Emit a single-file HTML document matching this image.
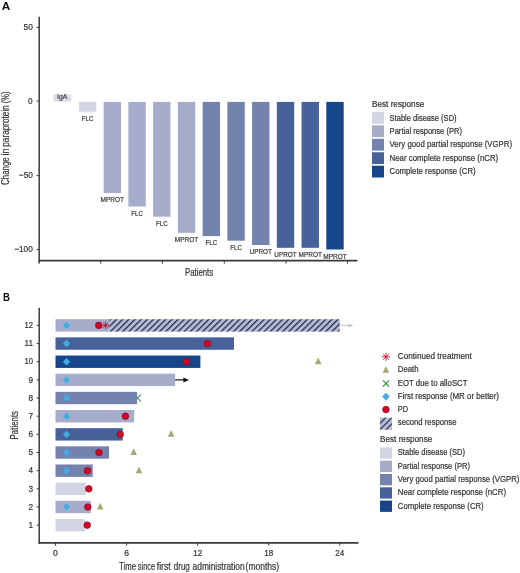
<!DOCTYPE html><html><head><meta charset="utf-8"><style>html,body{margin:0;padding:0;background:#fff;}svg{display:block;will-change:transform;}text{font-family:"Liberation Sans", sans-serif;}</style></head><body>
<svg width="520" height="573" viewBox="0 0 520 573">
<defs><pattern id="hatch" patternUnits="userSpaceOnUse" x="3.05" y="0" width="4.35" height="4.35" patternTransform="rotate(45)"><rect width="4.35" height="4.35" fill="#b5bbd5"/><rect x="0" y="0" width="1.25" height="4.35" fill="#1c2646"/></pattern><pattern id="hatch2" patternUnits="userSpaceOnUse" x="1.95" y="0" width="4.35" height="4.35" patternTransform="rotate(45)"><rect width="4.35" height="4.35" fill="#b6bcd6"/><rect x="0" y="0" width="1.15" height="4.35" fill="#1c2646"/></pattern></defs>
<text x="1.70" y="9.70" font-size="11.2" fill="#111" font-weight="bold" textLength="8.50" lengthAdjust="spacingAndGlyphs">A</text>
<line x1="39.2" y1="16.7" x2="39.2" y2="263.5" stroke="#3a3a3a" stroke-width="1.5"/>
<line x1="38.5" y1="260.6" x2="357.5" y2="260.6" stroke="#3a3a3a" stroke-width="1.8"/>
<line x1="36.6" y1="27.5" x2="39" y2="27.5" stroke="#3a3a3a" stroke-width="1"/>
<line x1="36.6" y1="101.0" x2="39" y2="101.0" stroke="#3a3a3a" stroke-width="1"/>
<line x1="36.6" y1="175.6" x2="39" y2="175.6" stroke="#3a3a3a" stroke-width="1"/>
<line x1="36.6" y1="249.5" x2="39" y2="249.5" stroke="#3a3a3a" stroke-width="1"/>
<text x="23.60" y="30.00" font-size="9" fill="#333333" stroke="#333333" stroke-width="0.2" textLength="9.30" lengthAdjust="spacingAndGlyphs">50</text>
<text x="28.00" y="103.50" font-size="9" fill="#333333" stroke="#333333" stroke-width="0.2" textLength="4.60" lengthAdjust="spacingAndGlyphs">0</text>
<text x="18.80" y="178.10" font-size="9" fill="#333333" stroke="#333333" stroke-width="0.2" textLength="14.10" lengthAdjust="spacingAndGlyphs">−50</text>
<text x="14.20" y="252.00" font-size="9" fill="#333333" stroke="#333333" stroke-width="0.2" textLength="18.60" lengthAdjust="spacingAndGlyphs">−100</text>
<line x1="100.8" y1="260.6" x2="100.8" y2="263.6" stroke="#3a3a3a" stroke-width="1"/>
<line x1="162.5" y1="260.6" x2="162.5" y2="263.6" stroke="#3a3a3a" stroke-width="1"/>
<line x1="224.3" y1="260.6" x2="224.3" y2="263.6" stroke="#3a3a3a" stroke-width="1"/>
<line x1="286.0" y1="260.6" x2="286.0" y2="263.6" stroke="#3a3a3a" stroke-width="1"/>
<line x1="347.5" y1="260.6" x2="347.5" y2="263.6" stroke="#3a3a3a" stroke-width="1"/>
<text x="185.00" y="276.20" font-size="10" fill="#333333" stroke="#333333" stroke-width="0.2" textLength="28.10" lengthAdjust="spacingAndGlyphs">Patients</text>
<text transform="translate(8.9,184.7) rotate(-90)" x="-0.20" font-size="10.5" fill="#333333" stroke="#333333" stroke-width="0.2" textLength="27.60" lengthAdjust="spacingAndGlyphs">Change</text>
<text transform="translate(8.9,184.7) rotate(-90)" x="29.10" font-size="10.5" fill="#333333" stroke="#333333" stroke-width="0.2" textLength="7.20" lengthAdjust="spacingAndGlyphs">in</text>
<text transform="translate(8.9,184.7) rotate(-90)" x="38.00" font-size="10.5" fill="#333333" stroke="#333333" stroke-width="0.2" textLength="41.50" lengthAdjust="spacingAndGlyphs">paraprotein</text>
<text transform="translate(8.9,184.7) rotate(-90)" x="81.50" font-size="10.5" fill="#333333" stroke="#333333" stroke-width="0.2" textLength="11.80" lengthAdjust="spacingAndGlyphs">(%)</text>
<rect x="53.4" y="94.4" width="17.8" height="7.2" fill="#dcdde9"/>
<text x="62.20" y="99.30" font-size="6.5" fill="#444" stroke="#444" stroke-width="0.2" text-anchor="middle" textLength="10.30" lengthAdjust="spacingAndGlyphs">IgA</text>
<rect x="78.90" y="101.9" width="17.4" height="9.90" fill="#d3d5e5"/>
<text x="87.60" y="120.80" font-size="7.3" fill="#333333" stroke="#333333" stroke-width="0.2" text-anchor="middle" textLength="11.50" lengthAdjust="spacingAndGlyphs">FLC</text>
<rect x="103.64" y="101.9" width="17.4" height="91.10" fill="#a6acca"/>
<text x="112.34" y="202.00" font-size="7.3" fill="#333333" stroke="#333333" stroke-width="0.2" text-anchor="middle" textLength="23.50" lengthAdjust="spacingAndGlyphs">MPROT</text>
<rect x="128.38" y="101.9" width="17.4" height="104.60" fill="#a6acca"/>
<text x="137.08" y="215.50" font-size="7.3" fill="#333333" stroke="#333333" stroke-width="0.2" text-anchor="middle" textLength="11.50" lengthAdjust="spacingAndGlyphs">FLC</text>
<rect x="153.12" y="101.9" width="17.4" height="114.80" fill="#a6acca"/>
<text x="161.82" y="225.70" font-size="7.3" fill="#333333" stroke="#333333" stroke-width="0.2" text-anchor="middle" textLength="11.50" lengthAdjust="spacingAndGlyphs">FLC</text>
<rect x="177.86" y="101.9" width="17.4" height="130.90" fill="#a6acca"/>
<text x="186.56" y="241.80" font-size="7.3" fill="#333333" stroke="#333333" stroke-width="0.2" text-anchor="middle" textLength="23.50" lengthAdjust="spacingAndGlyphs">MPROT</text>
<rect x="202.60" y="101.9" width="17.4" height="134.20" fill="#7482ae"/>
<text x="211.30" y="245.10" font-size="7.3" fill="#333333" stroke="#333333" stroke-width="0.2" text-anchor="middle" textLength="11.50" lengthAdjust="spacingAndGlyphs">FLC</text>
<rect x="227.34" y="101.9" width="17.4" height="138.80" fill="#7482ae"/>
<text x="236.04" y="249.70" font-size="7.3" fill="#333333" stroke="#333333" stroke-width="0.2" text-anchor="middle" textLength="11.50" lengthAdjust="spacingAndGlyphs">FLC</text>
<rect x="252.08" y="101.9" width="17.4" height="143.10" fill="#7482ae"/>
<text x="260.78" y="254.00" font-size="7.3" fill="#333333" stroke="#333333" stroke-width="0.2" text-anchor="middle" textLength="22.50" lengthAdjust="spacingAndGlyphs">UPROT</text>
<rect x="276.82" y="101.9" width="17.4" height="145.90" fill="#47619b"/>
<text x="285.52" y="256.80" font-size="7.3" fill="#333333" stroke="#333333" stroke-width="0.2" text-anchor="middle" textLength="22.50" lengthAdjust="spacingAndGlyphs">UPROT</text>
<rect x="301.56" y="101.9" width="17.4" height="145.90" fill="#47619b"/>
<text x="310.26" y="256.80" font-size="7.3" fill="#333333" stroke="#333333" stroke-width="0.2" text-anchor="middle" textLength="23.50" lengthAdjust="spacingAndGlyphs">MPROT</text>
<rect x="326.30" y="101.9" width="17.4" height="147.60" fill="#17478a"/>
<text x="335.00" y="258.50" font-size="7.3" fill="#333333" stroke="#333333" stroke-width="0.2" text-anchor="middle" textLength="23.50" lengthAdjust="spacingAndGlyphs">MPROT</text>
<text x="372.00" y="107.00" font-size="8.3" fill="#333333" stroke="#333333" stroke-width="0.2" textLength="52.30" lengthAdjust="spacingAndGlyphs">Best response</text>
<rect x="372" y="111.90" width="12" height="11.8" fill="#d3d5e5"/>
<text x="389.60" y="120.50" font-size="8.3" fill="#333333" stroke="#333333" stroke-width="0.2" textLength="67.00" lengthAdjust="spacingAndGlyphs">Stable disease (SD)</text>
<rect x="372" y="125.35" width="12" height="11.8" fill="#a6acca"/>
<text x="389.60" y="133.95" font-size="8.3" fill="#333333" stroke="#333333" stroke-width="0.2" textLength="72.40" lengthAdjust="spacingAndGlyphs">Partial response (PR)</text>
<rect x="372" y="138.80" width="12" height="11.8" fill="#7482ae"/>
<text x="389.60" y="147.40" font-size="8.3" fill="#333333" stroke="#333333" stroke-width="0.2" textLength="122.40" lengthAdjust="spacingAndGlyphs">Very good partial response (VGPR)</text>
<rect x="372" y="152.25" width="12" height="11.8" fill="#47619b"/>
<text x="389.60" y="160.85" font-size="8.3" fill="#333333" stroke="#333333" stroke-width="0.2" textLength="108.60" lengthAdjust="spacingAndGlyphs">Near complete response (nCR)</text>
<rect x="372" y="165.70" width="12" height="11.8" fill="#17478a"/>
<text x="389.60" y="174.30" font-size="8.3" fill="#333333" stroke="#333333" stroke-width="0.2" textLength="86.10" lengthAdjust="spacingAndGlyphs">Complete response (CR)</text>
<text x="3.00" y="301.00" font-size="11" fill="#111" font-weight="bold" textLength="6.90" lengthAdjust="spacingAndGlyphs">B</text>
<line x1="39.2" y1="307.8" x2="39.2" y2="543.7" stroke="#3a3a3a" stroke-width="1.5"/>
<line x1="38.5" y1="542.8" x2="358.5" y2="542.8" stroke="#3a3a3a" stroke-width="1.8"/>
<line x1="36.6" y1="525.16" x2="39" y2="525.16" stroke="#3a3a3a" stroke-width="1"/>
<text x="28.40" y="527.86" font-size="8.7" fill="#333333" stroke="#333333" stroke-width="0.2" textLength="4.60" lengthAdjust="spacingAndGlyphs">1</text>
<line x1="36.6" y1="507.00" x2="39" y2="507.00" stroke="#3a3a3a" stroke-width="1"/>
<text x="28.40" y="509.70" font-size="8.7" fill="#333333" stroke="#333333" stroke-width="0.2" textLength="4.60" lengthAdjust="spacingAndGlyphs">2</text>
<line x1="36.6" y1="488.84" x2="39" y2="488.84" stroke="#3a3a3a" stroke-width="1"/>
<text x="28.40" y="491.54" font-size="8.7" fill="#333333" stroke="#333333" stroke-width="0.2" textLength="4.60" lengthAdjust="spacingAndGlyphs">3</text>
<line x1="36.6" y1="470.68" x2="39" y2="470.68" stroke="#3a3a3a" stroke-width="1"/>
<text x="28.40" y="473.38" font-size="8.7" fill="#333333" stroke="#333333" stroke-width="0.2" textLength="4.60" lengthAdjust="spacingAndGlyphs">4</text>
<line x1="36.6" y1="452.52" x2="39" y2="452.52" stroke="#3a3a3a" stroke-width="1"/>
<text x="28.40" y="455.22" font-size="8.7" fill="#333333" stroke="#333333" stroke-width="0.2" textLength="4.60" lengthAdjust="spacingAndGlyphs">5</text>
<line x1="36.6" y1="434.36" x2="39" y2="434.36" stroke="#3a3a3a" stroke-width="1"/>
<text x="28.40" y="437.06" font-size="8.7" fill="#333333" stroke="#333333" stroke-width="0.2" textLength="4.60" lengthAdjust="spacingAndGlyphs">6</text>
<line x1="36.6" y1="416.20" x2="39" y2="416.20" stroke="#3a3a3a" stroke-width="1"/>
<text x="28.40" y="418.90" font-size="8.7" fill="#333333" stroke="#333333" stroke-width="0.2" textLength="4.60" lengthAdjust="spacingAndGlyphs">7</text>
<line x1="36.6" y1="398.04" x2="39" y2="398.04" stroke="#3a3a3a" stroke-width="1"/>
<text x="28.40" y="400.74" font-size="8.7" fill="#333333" stroke="#333333" stroke-width="0.2" textLength="4.60" lengthAdjust="spacingAndGlyphs">8</text>
<line x1="36.6" y1="379.88" x2="39" y2="379.88" stroke="#3a3a3a" stroke-width="1"/>
<text x="28.40" y="382.58" font-size="8.7" fill="#333333" stroke="#333333" stroke-width="0.2" textLength="4.60" lengthAdjust="spacingAndGlyphs">9</text>
<line x1="36.6" y1="361.72" x2="39" y2="361.72" stroke="#3a3a3a" stroke-width="1"/>
<text x="24.50" y="364.42" font-size="8.7" fill="#333333" stroke="#333333" stroke-width="0.2" textLength="8.50" lengthAdjust="spacingAndGlyphs">10</text>
<line x1="36.6" y1="343.56" x2="39" y2="343.56" stroke="#3a3a3a" stroke-width="1"/>
<text x="24.50" y="346.26" font-size="8.7" fill="#333333" stroke="#333333" stroke-width="0.2" textLength="8.50" lengthAdjust="spacingAndGlyphs">11</text>
<line x1="36.6" y1="325.40" x2="39" y2="325.40" stroke="#3a3a3a" stroke-width="1"/>
<text x="24.50" y="328.10" font-size="8.7" fill="#333333" stroke="#333333" stroke-width="0.2" textLength="8.50" lengthAdjust="spacingAndGlyphs">12</text>
<line x1="55.50" y1="542.8" x2="55.50" y2="545.6" stroke="#3a3a3a" stroke-width="1"/>
<text x="55.50" y="556.00" font-size="8.5" fill="#333333" stroke="#333333" stroke-width="0.2" text-anchor="middle" textLength="4.80" lengthAdjust="spacingAndGlyphs">0</text>
<line x1="126.58" y1="542.8" x2="126.58" y2="545.6" stroke="#3a3a3a" stroke-width="1"/>
<text x="126.58" y="556.00" font-size="8.5" fill="#333333" stroke="#333333" stroke-width="0.2" text-anchor="middle" textLength="4.80" lengthAdjust="spacingAndGlyphs">6</text>
<line x1="197.65" y1="542.8" x2="197.65" y2="545.6" stroke="#3a3a3a" stroke-width="1"/>
<text x="197.65" y="556.00" font-size="8.5" fill="#333333" stroke="#333333" stroke-width="0.2" text-anchor="middle" textLength="9.00" lengthAdjust="spacingAndGlyphs">12</text>
<line x1="268.73" y1="542.8" x2="268.73" y2="545.6" stroke="#3a3a3a" stroke-width="1"/>
<text x="268.73" y="556.00" font-size="8.5" fill="#333333" stroke="#333333" stroke-width="0.2" text-anchor="middle" textLength="9.00" lengthAdjust="spacingAndGlyphs">18</text>
<line x1="339.80" y1="542.8" x2="339.80" y2="545.6" stroke="#3a3a3a" stroke-width="1"/>
<text x="339.80" y="556.00" font-size="8.5" fill="#333333" stroke="#333333" stroke-width="0.2" text-anchor="middle" textLength="9.00" lengthAdjust="spacingAndGlyphs">24</text>
<text x="119.10" y="570.10" font-size="10.3" fill="#333333" stroke="#333333" stroke-width="0.2" textLength="17.00" lengthAdjust="spacingAndGlyphs">Time</text>
<text x="137.80" y="570.10" font-size="10.3" fill="#333333" stroke="#333333" stroke-width="0.2" textLength="17.30" lengthAdjust="spacingAndGlyphs">since</text>
<text x="156.80" y="570.10" font-size="10.3" fill="#333333" stroke="#333333" stroke-width="0.2" textLength="13.90" lengthAdjust="spacingAndGlyphs">first</text>
<text x="173.80" y="570.10" font-size="10.3" fill="#333333" stroke="#333333" stroke-width="0.2" textLength="16.00" lengthAdjust="spacingAndGlyphs">drug</text>
<text x="192.60" y="570.10" font-size="10.3" fill="#333333" stroke="#333333" stroke-width="0.2" textLength="52.00" lengthAdjust="spacingAndGlyphs">administration</text>
<text x="245.60" y="570.10" font-size="10.3" fill="#333333" stroke="#333333" stroke-width="0.2" textLength="33.60" lengthAdjust="spacingAndGlyphs">(months)</text>
<text transform="translate(17.8,439.4) rotate(-90)" font-size="10.6" fill="#333333" stroke="#333333" stroke-width="0.2" textLength="28.4" lengthAdjust="spacingAndGlyphs">Patients</text>
<path d="M134.0,394.54 L140.8,401.54 M140.8,394.54 L134.0,401.54" stroke="#3d9440" stroke-width="1.1" fill="none"/>
<rect x="55.5" y="319.20" width="53.70" height="12.4" fill="#a6acca"/>
<rect x="55.5" y="337.36" width="178.50" height="12.4" fill="#47619b"/>
<rect x="55.5" y="355.52" width="144.90" height="12.4" fill="#17478a"/>
<rect x="55.5" y="373.68" width="119.50" height="12.4" fill="#a6acca"/>
<rect x="55.5" y="391.84" width="81.60" height="12.4" fill="#7482ae"/>
<rect x="55.5" y="410.00" width="78.70" height="12.4" fill="#a6acca"/>
<rect x="55.5" y="428.16" width="67.20" height="12.4" fill="#47619b"/>
<rect x="55.5" y="446.32" width="53.50" height="12.4" fill="#7482ae"/>
<rect x="55.5" y="464.48" width="37.20" height="12.4" fill="#7482ae"/>
<rect x="55.5" y="482.64" width="30.50" height="12.4" fill="#d3d5e5"/>
<rect x="55.5" y="500.80" width="35.30" height="12.4" fill="#a6acca"/>
<rect x="55.5" y="518.96" width="29.50" height="12.4" fill="#d3d5e5"/>
<rect x="109.2" y="319.20" width="230.50" height="12.4" fill="url(#hatch)"/>
<line x1="340" y1="325.40" x2="351" y2="325.40" stroke="#c3c6d1" stroke-width="1"/>
<path d="M348.5,323.40 L353.5,325.40 L348.5,327.40 Z" fill="#c3c6d1"/>
<line x1="175" y1="379.88" x2="185" y2="379.88" stroke="#222" stroke-width="1.3"/>
<path d="M183.4,377.38 L189,379.88 L183.4,382.38 Z" fill="#111"/>
<path d="M66.5,321.7 L70.2,325.4 L66.5,329.09999999999997 L62.8,325.4 Z" fill="#42abe3"/>
<path d="M66.5,339.86 L70.2,343.56 L66.5,347.26 L62.8,343.56 Z" fill="#42abe3"/>
<path d="M66.5,358.02000000000004 L70.2,361.72 L66.5,365.42 L62.8,361.72 Z" fill="#42abe3"/>
<path d="M66.5,376.18 L70.2,379.88 L66.5,383.58 L62.8,379.88 Z" fill="#42abe3"/>
<path d="M66.5,394.34000000000003 L70.2,398.04 L66.5,401.74 L62.8,398.04 Z" fill="#42abe3"/>
<path d="M66.5,412.5 L70.2,416.2 L66.5,419.9 L62.8,416.2 Z" fill="#42abe3"/>
<path d="M66.5,430.66 L70.2,434.36 L66.5,438.06 L62.8,434.36 Z" fill="#42abe3"/>
<path d="M66.5,448.82 L70.2,452.52 L66.5,456.21999999999997 L62.8,452.52 Z" fill="#42abe3"/>
<path d="M66.5,466.98 L70.2,470.68 L66.5,474.38 L62.8,470.68 Z" fill="#42abe3"/>
<path d="M66.5,503.3 L70.2,507.0 L66.5,510.7 L62.8,507.0 Z" fill="#42abe3"/>
<circle cx="98.7" cy="325.4" r="3.3" fill="#cf0a28" stroke="#96001e" stroke-width="0.7"/>
<circle cx="207.3" cy="343.56" r="3.3" fill="#cf0a28" stroke="#96001e" stroke-width="0.7"/>
<circle cx="186.5" cy="361.72" r="3.3" fill="#cf0a28" stroke="#96001e" stroke-width="0.7"/>
<circle cx="125.4" cy="416.2" r="3.3" fill="#cf0a28" stroke="#96001e" stroke-width="0.7"/>
<circle cx="120.2" cy="434.36" r="3.3" fill="#cf0a28" stroke="#96001e" stroke-width="0.7"/>
<circle cx="99" cy="452.52" r="3.3" fill="#cf0a28" stroke="#96001e" stroke-width="0.7"/>
<circle cx="87.5" cy="470.68" r="3.3" fill="#cf0a28" stroke="#96001e" stroke-width="0.7"/>
<circle cx="88.8" cy="488.84" r="3.3" fill="#cf0a28" stroke="#96001e" stroke-width="0.7"/>
<circle cx="87.8" cy="507.0" r="3.3" fill="#cf0a28" stroke="#96001e" stroke-width="0.7"/>
<circle cx="87.2" cy="525.16" r="3.3" fill="#cf0a28" stroke="#96001e" stroke-width="0.7"/>
<path d="M101.60,325.40 L109.60,325.40 M102.77,322.57 L108.43,328.23 M105.60,321.40 L105.60,329.40 M108.43,322.57 L102.77,328.23 " stroke="#c4143a" stroke-width="0.9" fill="none"/>
<path d="M318.2,357.47 L321.5,364.17 L314.9,364.17 Z" fill="#a2aa72"/>
<path d="M171.2,430.11 L174.5,436.81 L167.89999999999998,436.81 Z" fill="#a2aa72"/>
<path d="M133.7,448.27 L137.0,454.97 L130.39999999999998,454.97 Z" fill="#a2aa72"/>
<path d="M139,466.43 L142.3,473.13 L135.7,473.13 Z" fill="#a2aa72"/>
<path d="M100.2,502.75 L103.5,509.45 L96.9,509.45 Z" fill="#a2aa72"/>
<text x="397.80" y="359.30" font-size="8.3" fill="#333333" stroke="#333333" stroke-width="0.2" textLength="74.10" lengthAdjust="spacingAndGlyphs">Continued treatment</text>
<text x="397.80" y="372.48" font-size="8.3" fill="#333333" stroke="#333333" stroke-width="0.2" textLength="20.70" lengthAdjust="spacingAndGlyphs">Death</text>
<text x="397.80" y="385.66" font-size="8.3" fill="#333333" stroke="#333333" stroke-width="0.2" textLength="69.70" lengthAdjust="spacingAndGlyphs">EOT due to alloSCT</text>
<text x="397.80" y="398.84" font-size="8.3" fill="#333333" stroke="#333333" stroke-width="0.2" textLength="101.20" lengthAdjust="spacingAndGlyphs">First response (MR or better)</text>
<text x="397.80" y="412.02" font-size="8.3" fill="#333333" stroke="#333333" stroke-width="0.2" textLength="10.20" lengthAdjust="spacingAndGlyphs">PD</text>
<text x="397.80" y="425.20" font-size="8.3" fill="#333333" stroke="#333333" stroke-width="0.2" textLength="58.70" lengthAdjust="spacingAndGlyphs">second response</text>
<path d="M382.00,356.80 L390.00,356.80 M383.17,353.97 L388.83,359.63 M386.00,352.80 L386.00,360.80 M388.83,353.97 L383.17,359.63 " stroke="#c8102e" stroke-width="0.9" fill="none"/>
<path d="M385.9,366.05 L389.2,372.75 L382.59999999999997,372.75 Z" fill="#a2aa72"/>
<path d="M382.9,380.29999999999995 L389.1,386.5 M389.1,380.29999999999995 L382.9,386.5" stroke="#3d9440" stroke-width="1.1" fill="none"/>
<path d="M385.9,392.8 L389.7,396.6 L385.9,400.40000000000003 L382.09999999999997,396.6 Z" fill="#42abe3"/>
<circle cx="385.9" cy="409.6" r="3.3" fill="#cf0a28" stroke="#96001e" stroke-width="0.7"/>
<rect x="379.9" y="417.6" width="12" height="12.1" fill="url(#hatch2)"/>
<text x="380.00" y="441.60" font-size="8.3" fill="#333333" stroke="#333333" stroke-width="0.2" textLength="52.30" lengthAdjust="spacingAndGlyphs">Best response</text>
<rect x="380" y="447.40" width="12" height="11.3" fill="#d3d5e5"/>
<text x="397.80" y="455.30" font-size="8.3" fill="#333333" stroke="#333333" stroke-width="0.2" textLength="67.30" lengthAdjust="spacingAndGlyphs">Stable disease (SD)</text>
<rect x="380" y="460.70" width="12" height="11.3" fill="#a6acca"/>
<text x="397.80" y="468.60" font-size="8.3" fill="#333333" stroke="#333333" stroke-width="0.2" textLength="72.10" lengthAdjust="spacingAndGlyphs">Partial response (PR)</text>
<rect x="380" y="474.00" width="12" height="11.3" fill="#7482ae"/>
<text x="397.80" y="481.90" font-size="8.3" fill="#333333" stroke="#333333" stroke-width="0.2" textLength="121.60" lengthAdjust="spacingAndGlyphs">Very good partial response (VGPR)</text>
<rect x="380" y="487.30" width="12" height="11.3" fill="#47619b"/>
<text x="397.80" y="495.20" font-size="8.3" fill="#333333" stroke="#333333" stroke-width="0.2" textLength="108.20" lengthAdjust="spacingAndGlyphs">Near complete response (nCR)</text>
<rect x="380" y="500.60" width="12" height="11.3" fill="#17478a"/>
<text x="397.80" y="508.50" font-size="8.3" fill="#333333" stroke="#333333" stroke-width="0.2" textLength="85.90" lengthAdjust="spacingAndGlyphs">Complete response (CR)</text>
</svg></body></html>
